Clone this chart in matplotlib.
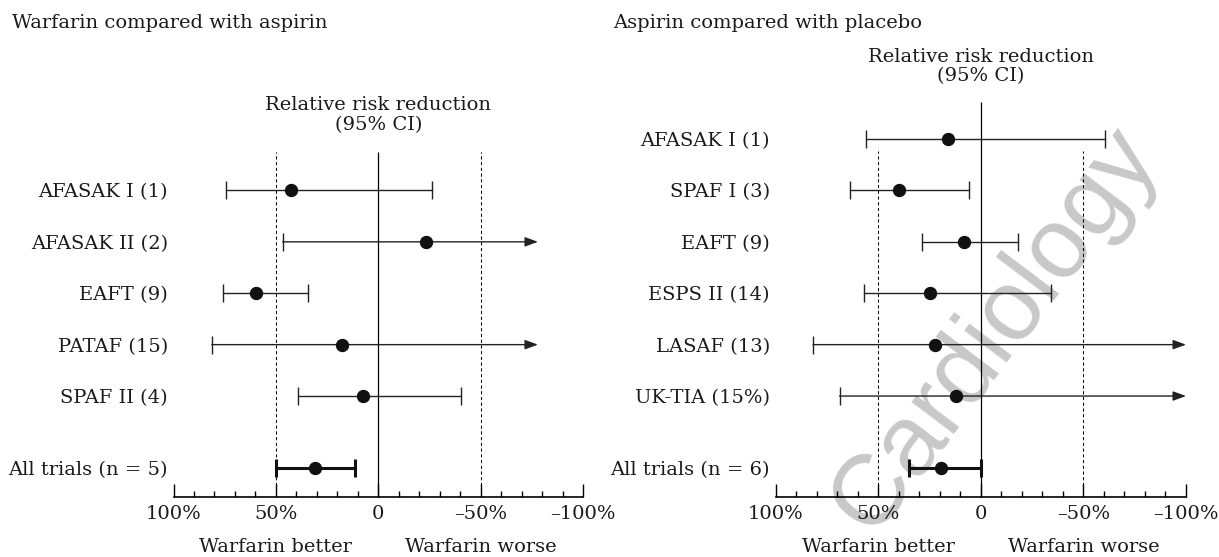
import matplotlib
matplotlib.use("Agg")
import matplotlib.pyplot as plt
from matplotlib.ticker import MultipleLocator, FixedLocator
import numpy as np

# ---------------- data ----------------
titles = ["Warfarin compared with aspirin", "Aspirin compared with placebo"]

labels_L = ["AFASAK I (1)", "AFASAK II (2)", "EAFT (9)", "PATAF (15)", "SPAF II (4)"]
est_L = [42.5, -23.2, 59.8, 17.7, 7.4]
lo_L = [74.2, 46.7, 75.7, 81.3, 39.2]
hi_L = [-26.4, -78.0, 34.5, -78.0, -40.2]
arrow_L = [False, True, False, True, False]
all_label_L = "All trials (n = 5)"
all_L = [30.8, 50.0, 11.3]   # estimate, lower end, upper end

labels_R = ["AFASAK I (1)", "SPAF I (3)", "EAFT (9)", "ESPS II (14)", "LASAF (13)", "UK-TIA (15%)"]
est_R = [15.8, 40.0, 8.3, 24.6, 22.5, 11.9]
lo_R = [56.1, 63.8, 28.8, 56.7, 81.7, 68.8]
hi_R = [-60.5, 5.6, -18.2, -34.2, -100.0, -100.0]
arrow_R = [False, False, False, False, True, True]
all_label_R = "All trials (n = 6)"
all_R = [19.2, 35.0, 0.0]

major_ticks = [100, 50, 0, -50, -100]
major_labels = ["100%", "50%", "0", "\u201350%", "\u2013100%"]
header = "Relative risk reduction"
header2 = "(95% CI)"
better, worse = "Warfarin better", "Warfarin worse"
watermark = "Cardiology"

# ---------------- style ----------------
FONT = "DejaVu Serif"
FS = 14
TXT = "#1a1a1a"
LINE = "#222222"
plt.rcParams["font.family"] = [FONT]

W, H = 1219, 557
fig = plt.figure(figsize=(W / 100, H / 100), dpi=100)

ROW0 = 468.0    # pixel y of the 'All trials' row
STEP = 51.4     # pixel spacing between rows
AXIS_Y = 497.0  # pixel y of the axis line


def py(p):
    """pixel-from-top -> data y"""
    return (ROW0 - p) / STEP


def make_panel(x0, x1, labels, est, lo, hi, arrows, all_label, allv,
               zero_top, dot_top, head_y1, head_y2, title, title_x):
    ax = fig.add_axes([x0 / W, (H - AXIS_Y) / H, (x1 - x0) / W, AXIS_Y / H])
    ax.set_facecolor("none")
    ax.set_xlim(100, -100)
    ax.set_ylim(py(AXIS_Y), py(0))
    n = len(labels)
    ys = [n - 1 - i + 1.4 for i in range(n)]

    # reference lines
    ax.vlines(0, py(AXIS_Y), py(zero_top), color="black", lw=0.9, zorder=2)
    for v in (50, -50):
        ax.vlines(v, py(AXIS_Y), py(dot_top), color="black", lw=0.75,
                  linestyles=(0, (3.0, 2.5)), zorder=2)

    # individual trials
    for y, e, l, h, a in zip(ys, est, lo, hi, arrows):
        if a:
            ax.annotate("", xy=(h, y), xytext=(l, y),
                        arrowprops=dict(arrowstyle="-|>,head_length=0.6,head_width=0.22",
                                        mutation_scale=13, lw=1.0, color=LINE,
                                        shrinkA=0, shrinkB=0), zorder=3)
            ax.plot([l], [y], marker="|", ms=13, mew=1.0, color=LINE, zorder=3)
        else:
            ax.plot([l, h], [y, y], color=LINE, lw=1.0, zorder=3)
            ax.plot([l, h], [y, y], marker="|", ms=13, mew=1.0, ls="none",
                    color=LINE, zorder=3)
        ax.plot([e], [y], marker="o", ms=8.6, color="#111111", zorder=4)

    # pooled
    e, l, h = allv
    ax.plot([l, h], [0, 0], color="#111111", lw=2.2, zorder=3)
    ax.plot([l, h], [0, 0], marker="|", ms=12.5, mew=2.2, ls="none",
            color="#111111", zorder=3)
    ax.plot([e], [0], marker="o", ms=8.6, color="#111111", zorder=4)

    # y labels
    ax.set_yticks(ys + [0])
    ax.set_yticklabels(labels + [all_label], fontsize=FS, color=TXT)
    ax.tick_params(axis="y", length=0, pad=4)

    # x axis
    for s in ("top", "right", "left"):
        ax.spines[s].set_visible(False)
    ax.spines["bottom"].set_linewidth(1.2)
    ax.spines["bottom"].set_color("black")
    ax.xaxis.set_major_locator(FixedLocator(major_ticks))
    ax.set_xticklabels(major_labels, fontsize=FS, color=TXT)
    ax.xaxis.set_minor_locator(MultipleLocator(10))
    ax.tick_params(axis="x", which="major", direction="in", length=9.5,
                   width=1.0, pad=6, color="black")
    ax.tick_params(axis="x", which="minor", direction="in", length=4.6,
                   width=1.0, color="black")

    # headers
    ax.text(0, py(head_y1), header, ha="center", va="center", fontsize=FS,
            color=TXT, clip_on=False)
    ax.text(0, py(head_y2), header2, ha="center", va="center", fontsize=FS,
            color=TXT, clip_on=False)
    ax.text(50, py(547), better, ha="center", va="center", fontsize=FS,
            color=TXT, clip_on=False)
    ax.text(-50, py(547), worse, ha="center", va="center", fontsize=FS,
            color=TXT, clip_on=False)
    fig.text(title_x / W, 1 - 23 / H, title, ha="left", va="center",
             fontsize=FS, color=TXT)
    return ax


# watermark (behind everything)
fig.text(995 / W, (H - 330) / H, watermark, rotation=53,
         rotation_mode="anchor", ha="center", va="center",
         fontsize=72, family="Liberation Sans", color="#c8c8c8", zorder=-5)

make_panel(173.5, 583.0, labels_L, est_L, lo_L, hi_L, arrow_L, all_label_L,
           all_L, 152, 152, 105, 125, titles[0], 12)
make_panel(775.5, 1186.0, labels_R, est_R, lo_R, hi_R, arrow_R, all_label_R,
           all_R, 102, 151, 57, 76, titles[1], 613)

fig.savefig("out.png", dpi=100)
